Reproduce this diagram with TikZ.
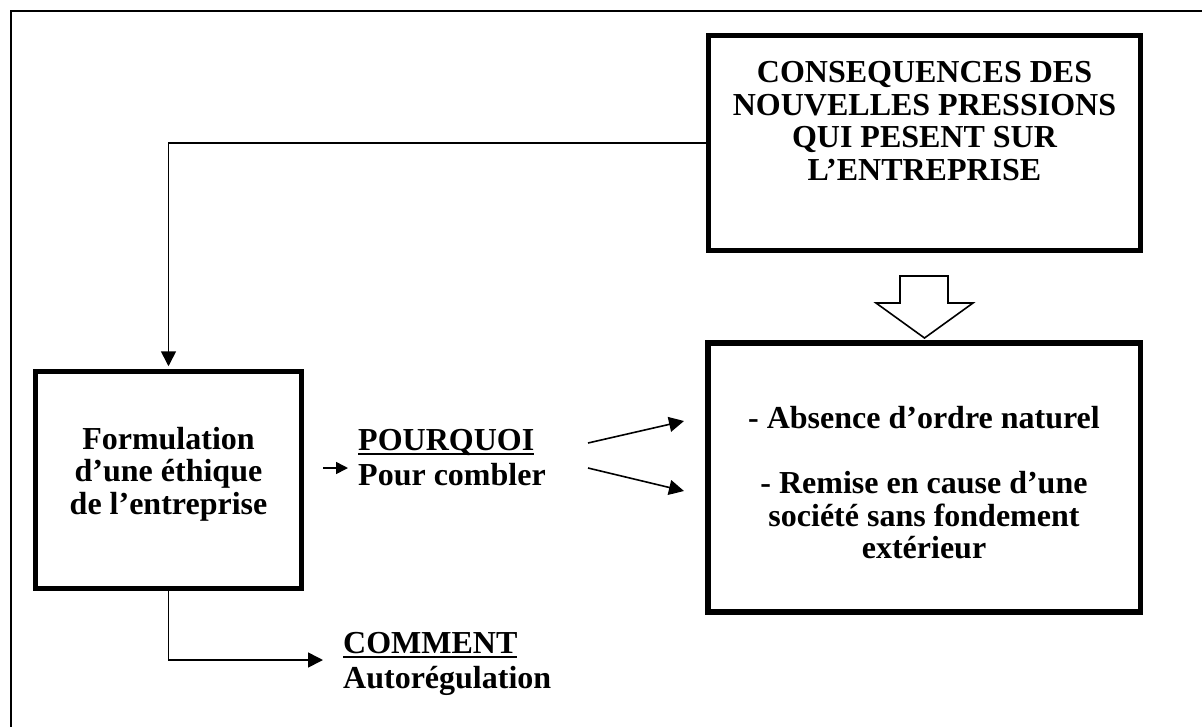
\documentclass[tikz,border=0pt]{standalone}
\usepackage{fontspec}
\setmainfont{Liberation Serif}
\usetikzlibrary{arrows.meta}
% underlined word with the rule set a little below the baseline
\newcommand\ulword[1]{\setbox0\hbox{#1}\rlap{\rule[-4.5pt]{\wd0}{2.2pt}}\box0}
\begin{document}
\begin{tikzpicture}[x=1pt,y=-1pt,
  frameline/.style={line width=1.8pt},
  bigbox/.style={draw, line width=5.5pt, inner sep=0pt},
  boxtext/.style={font=\bfseries\fontsize{32}{32.5}\selectfont, align=center, inner sep=0pt},
  sidetext/.style={font=\bfseries\fontsize{32}{35}\selectfont, align=left, inner sep=0pt},
  link/.style={line width=1.6pt, -{Triangle[length=15pt,width=15pt]}},
  hollow/.style={draw, fill=white, line width=1.6pt, line join=miter},
]
\useasboundingbox (0,0) rectangle (1202,726);

% page frame, running off the right and bottom edges
\begin{scope}
  \clip (0,0) rectangle (1202,726);
  \draw[frameline] (11,740) -- (11,11) -- (1215,11);
\end{scope}

% the three framed boxes
\node[bigbox, minimum width=432pt, minimum height=215pt] (pressions) at (924.5,143) {};
\node[boxtext] (pressionsT) at (924.5,121) {CONSEQUENCES DES\\NOUVELLES PRESSIONS\\QUI PESENT SUR\\L’ENTREPRISE};

\node[bigbox, minimum width=432.5pt, minimum height=269pt] (consequences) at (924,477.5) {};
\node[boxtext] (consequencesT) at (924,483) {- Absence d’ordre naturel\\[32.5pt]- Remise en cause d’une\\société sans fondement\\extérieur};

\node[bigbox, minimum width=266pt, minimum height=217pt] (ethique) at (168.5,480) {};
\node[boxtext] (ethiqueT) at (168.5,474) {Formulation\\d’une éthique\\de l’entreprise};

% side labels
\node[sidetext, anchor=west] (pourquoi) at (358,458) {\ulword{POURQUOI}\\Pour combler};
\node[sidetext, anchor=west] (comment) at (343,664) {\ulword{COMMENT}\\Autorégulation};

% hollow arrow between the two right-hand boxes
\draw[hollow] (900,276) -- (948,276) -- (948,303) -- (973,303) -- (924.5,338)
  -- (876,303) -- (900,303) -- cycle;

% connectors
\draw[link, shorten >=2.5pt] (pressions.west) -| (ethique.north);
\coordinate (cm) at (323,660);
\draw[link] (ethique.south) |- (cm);

\coordinate (pq1) at (323,468);
\coordinate (pq2) at (348,468);
\draw[line width=1.6pt, -{Triangle[length=12pt,width=12pt]}] (pq1) -- (pq2);

\coordinate (d1) at (588,443);
\coordinate (d2) at (684,421);
\coordinate (d3) at (588,468);
\coordinate (d4) at (684,491);
\draw[link] (d1) -- (d2);
\draw[link] (d3) -- (d4);
\end{tikzpicture}
\end{document}
